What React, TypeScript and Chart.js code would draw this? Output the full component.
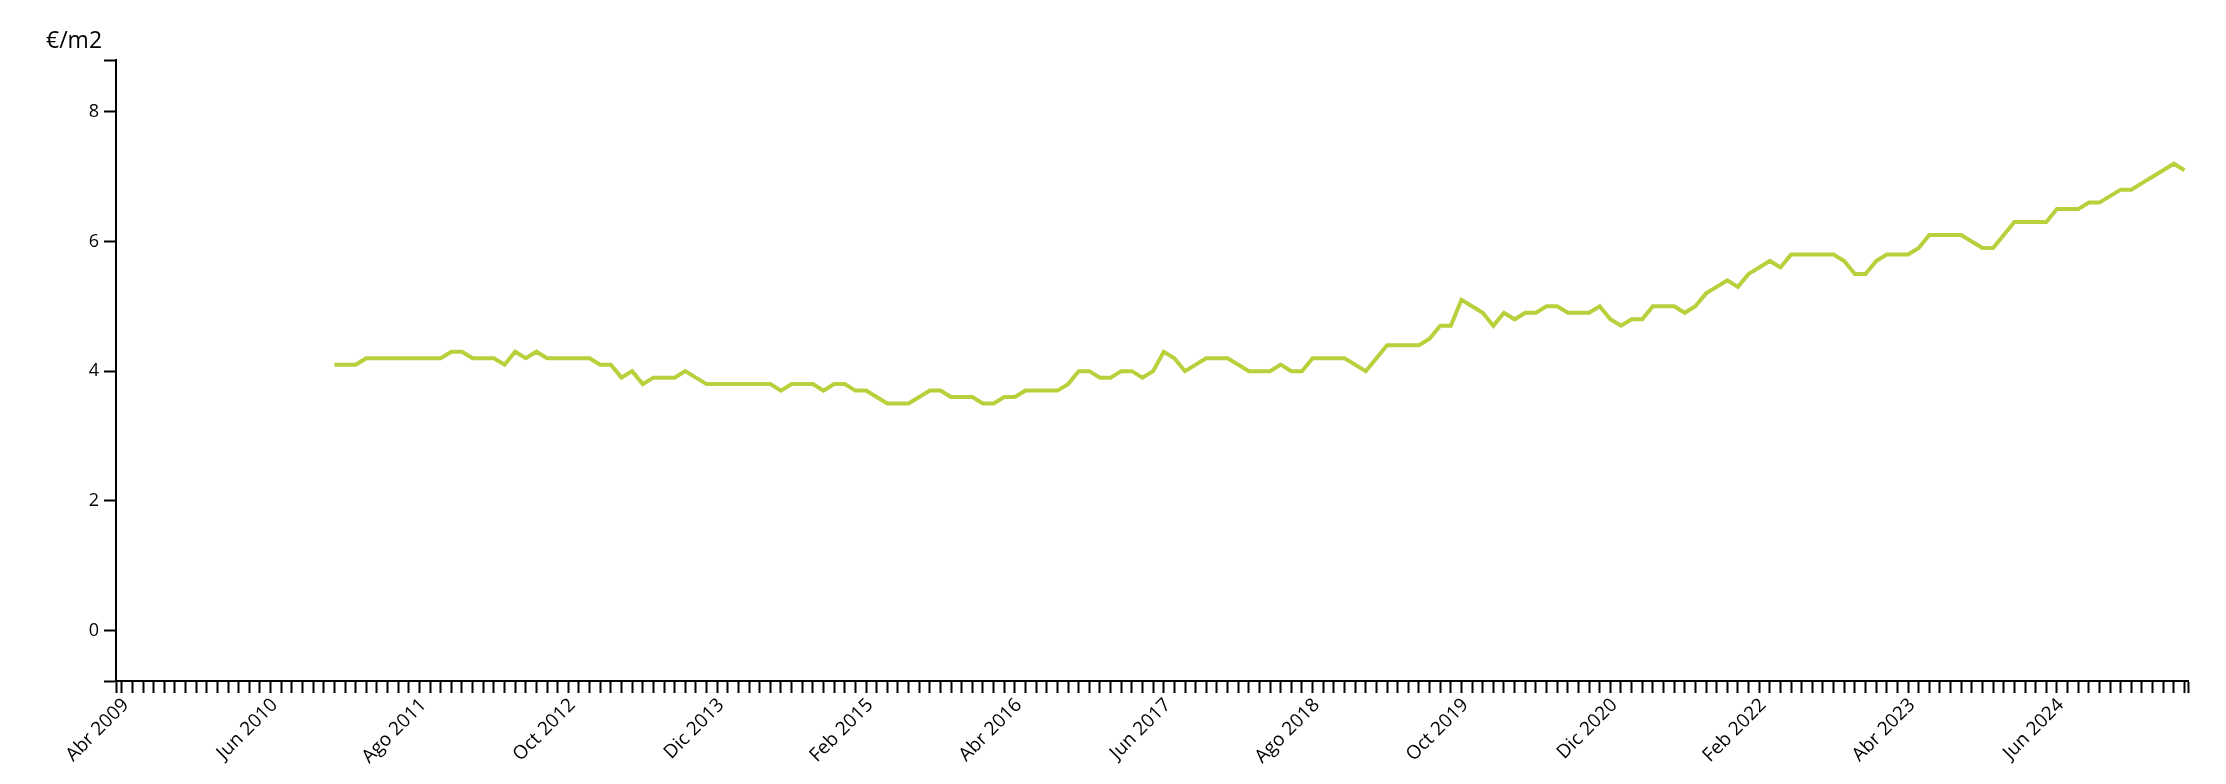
import React, { useEffect, useRef } from 'react';
import { Chart, registerables } from 'chart.js';

Chart.register(...registerables);

// ---- data ----
const MONTHS_ES = ['Ene', 'Feb', 'Mar', 'Abr', 'May', 'Jun', 'Jul', 'Ago', 'Sep', 'Oct', 'Nov', 'Dic'];
const AXIS_START_YEAR = 2009;
const AXIS_START_MONTH = 3; // Abr
const X_MIN = -0.54; // months relative to Abr 2009
const X_MAX = 194.33;
const LABEL_EVERY = 14;
const FIRST_DATA_MONTH = 20; // Dic 2010

const PRICES = [
  4.1, 4.1, 4.1, 4.2, 4.2, 4.2, 4.2, 4.2, 4.2, 4.2, 4.2, 4.3, 4.3, 4.2, 4.2, 4.2,
  4.1, 4.3, 4.2, 4.3, 4.2, 4.2, 4.2, 4.2, 4.2, 4.1, 4.1, 3.9, 4.0, 3.8, 3.9, 3.9,
  3.9, 4.0, 3.9, 3.8, 3.8, 3.8, 3.8, 3.8, 3.8, 3.8, 3.7, 3.8, 3.8, 3.8, 3.7, 3.8,
  3.8, 3.7, 3.7, 3.6, 3.5, 3.5, 3.5, 3.6, 3.7, 3.7, 3.6, 3.6, 3.6, 3.5, 3.5, 3.6,
  3.6, 3.7, 3.7, 3.7, 3.7, 3.8, 4.0, 4.0, 3.9, 3.9, 4.0, 4.0, 3.9, 4.0, 4.3, 4.2,
  4.0, 4.1, 4.2, 4.2, 4.2, 4.1, 4.0, 4.0, 4.0, 4.1, 4.0, 4.0, 4.2, 4.2, 4.2, 4.2,
  4.1, 4.0, 4.2, 4.4, 4.4, 4.4, 4.4, 4.5, 4.7, 4.7, 5.1, 5.0, 4.9, 4.7, 4.9, 4.8,
  4.9, 4.9, 5.0, 5.0, 4.9, 4.9, 4.9, 5.0, 4.8, 4.7, 4.8, 4.8, 5.0, 5.0, 5.0, 4.9,
  5.0, 5.2, 5.3, 5.4, 5.3, 5.5, 5.6, 5.7, 5.6, 5.8, 5.8, 5.8, 5.8, 5.8, 5.7, 5.5,
  5.5, 5.7, 5.8, 5.8, 5.8, 5.9, 6.1, 6.1, 6.1, 6.1, 6.0, 5.9, 5.9, 6.1, 6.3, 6.3,
  6.3, 6.3, 6.5, 6.5, 6.5, 6.6, 6.6, 6.7, 6.8, 6.8, 6.9, 7.0, 7.1, 7.2, 7.1,
];

const Y_TICKS = [0, 2, 4, 6, 8];
const Y_MIN = -0.78;
const Y_MAX = 8.8;
const UNIT_LABEL = '€/m2';

const LINE_COLOR = '#b8d03c';
const FONT_FAMILY = '"Open Sans", sans-serif';

function monthLabel(k: number): string {
  const m = AXIS_START_MONTH + k;
  return MONTHS_ES[m % 12] + ' ' + (AXIS_START_YEAR + Math.floor(m / 12));
}

export default function App() {
  const ref = useRef<HTMLCanvasElement | null>(null);

  useEffect(() => {
    if (!ref.current) return;
    const points = PRICES.map((v, i) => ({ x: FIRST_DATA_MONTH + i, y: v }));
    const monthTicks: number[] = [];
    for (let k = Math.ceil(X_MIN); k <= Math.floor(X_MAX); k++) monthTicks.push(k);

    const chart = new Chart(ref.current, {
      type: 'line',
      data: {
        datasets: [
          {
            data: points,
            borderColor: LINE_COLOR,
            backgroundColor: LINE_COLOR,
            borderWidth: 4,
            pointRadius: 0,
            tension: 0,
            fill: false,
          },
        ],
      },
      options: {
        animation: false,
        responsive: true,
        maintainAspectRatio: false,
        layout: { padding: { left: 46, right: 38, top: 0, bottom: 0 } },
        plugins: {
          legend: { display: false },
          tooltip: { enabled: false },
          title: {
            display: true,
            text: UNIT_LABEL,
            align: 'start',
            color: '#000',
            font: { family: FONT_FAMILY, size: 23, weight: 'normal' },
            padding: { top: 27.7, bottom: 4.7 },
          },
        },
        scales: {
          x: {
            type: 'linear',
            min: X_MIN,
            max: X_MAX,
            bounds: 'data',
            afterBuildTicks: (scale: any) => {
              scale.ticks = [X_MIN, ...monthTicks, X_MAX].map((v) => ({ value: v }));
            },
            afterFit: (scale: any) => {
              scale.height = 103;
            },
            grid: {
              drawOnChartArea: false,
              drawTicks: true,
              tickLength: 12,
              tickWidth: 2,
              tickColor: '#000',
            },
            border: { display: true, color: '#000', width: 2 },
            ticks: {
              autoSkip: false,
              minRotation: 45,
              maxRotation: 45,
              padding: 1,
              labelOffset: 4,
              color: '#000',
              font: { family: FONT_FAMILY, size: 19 },
              callback: (value: any) => {
                const v = Number(value);
                if (Number.isInteger(v) && v >= 0 && v % LABEL_EVERY === 0) return monthLabel(v);
                return '';
              },
            },
          },
          y: {
            type: 'linear',
            min: Y_MIN,
            max: Y_MAX,
            bounds: 'data',
            afterBuildTicks: (scale: any) => {
              scale.ticks = [Y_MIN, ...Y_TICKS, Y_MAX].map((v) => ({ value: v }));
            },
            afterFit: (scale: any) => {
              scale.width = 70;
            },
            grid: {
              drawOnChartArea: false,
              drawTicks: true,
              tickLength: 12,
              tickWidth: 2,
              tickColor: '#000',
            },
            border: { display: true, color: '#000', width: 2 },
            ticks: {
              padding: 5,
              color: '#000',
              font: { family: FONT_FAMILY, size: 18 },
              callback: (value: any) => {
                const v = Number(value);
                return Y_TICKS.includes(v) ? String(v) : '';
              },
            },
          },
        },
      },
    });
    return () => chart.destroy();
  }, []);

  return (
    <div style={{ position: 'fixed', left: 0, top: 0, width: 2226, height: 784, background: '#fff' }}>
      <canvas ref={ref} />
    </div>
  );
}
